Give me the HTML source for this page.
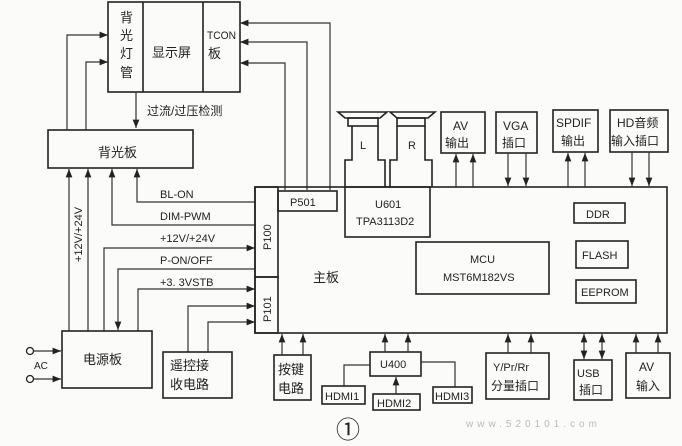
<!DOCTYPE html>
<html><head><meta charset="utf-8"><style>
html,body{margin:0;padding:0;background:#fbfbfa;}
svg{display:block;}
text{font-family:"Liberation Sans","Noto Sans CJK SC",sans-serif;fill:#222;}
.b{fill:none;stroke:#222;stroke-width:1.6;}
.l{fill:none;stroke:#333;stroke-width:1.2;}
</style></head><body>
<svg width="682" height="446" viewBox="0 0 682 446" xmlns="http://www.w3.org/2000/svg">
<defs>
<marker id="a" viewBox="0 0 10 10" refX="10" refY="5" markerWidth="7" markerHeight="7" orient="auto-start-reverse"><path d="M0,1 L10,5 L0,9 z" fill="#222"/></marker>
</defs>
<rect class="b" x="108" y="2" width="132" height="90"/>
<line class="b" x1="143" y1="2" x2="143" y2="92"/>
<line class="b" x1="203" y1="2" x2="203" y2="92"/>
<g font-size="13"><text x="120" y="22">背</text><text x="120" y="40">光</text><text x="120" y="58">灯</text><text x="120" y="77">管</text></g>
<text x="152" y="57" font-size="13">显示屏</text>
<text x="207" y="39" font-size="11" textLength="29" lengthAdjust="spacingAndGlyphs">TCON</text>
<text x="208" y="58" font-size="13">板</text>
<polyline class="l" points="330,190 330,23 240,23" marker-end="url(#a)"/>
<polyline class="l" points="307,190 307,42 240,42" marker-end="url(#a)"/>
<polyline class="l" points="285,190 285,63 240,63" marker-end="url(#a)"/>
<rect class="b" x="48" y="130" width="145" height="38"/>
<text x="98" y="157" font-size="13">背光板</text>
<polyline class="l" points="67,130 67,35 108,35" marker-end="url(#a)"/>
<polyline class="l" points="86,130 86,62 108,62" marker-end="url(#a)"/>
<line class="l" x1="136" y1="92" x2="136" y2="128" marker-end="url(#a)"/>
<text x="147" y="115" font-size="12">过流/过压检测</text>
<line class="l" x1="69" y1="331" x2="69" y2="169" marker-end="url(#a)"/>
<line class="l" x1="88" y1="331" x2="88" y2="169" marker-end="url(#a)"/>
<text transform="translate(82,262) rotate(-90)" font-size="11">+12V/+24V</text>
<polyline class="l" points="255,202 137,202 137,169" marker-end="url(#a)"/>
<text x="160" y="198" font-size="11">BL-ON</text>
<polyline class="l" points="255,225 112,225 112,169" marker-end="url(#a)"/>
<text x="160" y="220" font-size="11">DIM-PWM</text>
<polyline class="l" points="104,331 104,248 255,248" marker-end="url(#a)"/>
<text x="160" y="242" font-size="11">+12V/+24V</text>
<polyline class="l" points="255,269 118,269 118,330" marker-end="url(#a)"/>
<text x="160" y="264" font-size="11">P-ON/OFF</text>
<polyline class="l" points="138,331 138,289 255,289" marker-end="url(#a)"/>
<text x="160" y="286" font-size="11">+3. 3VSTB</text>
<polyline class="l" points="188,352 188,306 255,306" marker-end="url(#a)"/>
<polyline class="l" points="208,352 208,322 255,322" marker-end="url(#a)"/>
<rect class="b" x="255" y="187" width="412" height="146"/>
<rect class="b" x="255" y="187" width="23" height="90"/>
<rect class="b" x="255" y="277" width="23" height="56"/>
<text transform="translate(271,250) rotate(-90)" font-size="11">P100</text>
<text transform="translate(271,322) rotate(-90)" font-size="11">P101</text>
<rect class="b" x="278" y="191" width="59" height="20"/>
<text x="290" y="206" font-size="11">P501</text>
<text x="313" y="282" font-size="13">主板</text>
<rect class="b" x="345" y="187" width="85" height="50"/>
<text x="375" y="208" font-size="11">U601</text>
<text x="356" y="225" font-size="11">TPA3113D2</text>
<rect class="b" x="416" y="242" width="133" height="52"/>
<text x="470" y="263" font-size="11">MCU</text>
<text x="443" y="281" font-size="11">MST6M182VS</text>
<rect class="b" x="574" y="203" width="51" height="20"/><text x="586" y="218" font-size="11">DDR</text>
<rect class="b" x="576" y="241" width="52" height="27"/><text x="582" y="259" font-size="11">FLASH</text>
<rect class="b" x="576" y="280" width="60" height="23"/><text x="581" y="296" font-size="11">EEPROM</text>
<g class="b">
<polygon points="338,112 387,112 380,118 345,118"/><rect x="348" y="118" width="30" height="8"/>
<polyline points="345,187 345,160 352,160 352,126"/><polyline points="378,126 378,160 385,160 385,187"/>
<polygon points="390,112 435,112 428,118 397,118"/><rect x="397" y="118" width="28" height="8"/>
<polyline points="390,187 390,160 397,160 397,126"/><polyline points="425,126 425,160 432,160 432,187"/>
</g>
<text x="360" y="149" font-size="11">L</text>
<text x="408" y="149" font-size="11">R</text>
<rect class="b" x="441" y="112" width="44" height="41"/><text x="453" y="130" font-size="12">AV</text><text x="445" y="147" font-size="12">输出</text>
<rect class="b" x="496" y="112" width="41" height="41"/><text x="503" y="130" font-size="12">VGA</text><text x="502" y="147" font-size="12">插口</text>
<rect class="b" x="553" y="110" width="45" height="42"/><text x="556" y="127" font-size="12">SPDIF</text><text x="561" y="145" font-size="12">输出</text>
<rect class="b" x="610" y="110" width="58" height="42"/><text x="617" y="127" font-size="12">HD音频</text><text x="611" y="145" font-size="12">输入插口</text>
<line class="l" x1="456" y1="187" x2="456" y2="154" marker-end="url(#a)"/>
<line class="l" x1="473" y1="187" x2="473" y2="154" marker-end="url(#a)"/>
<line class="l" x1="508" y1="153" x2="508" y2="186" marker-end="url(#a)"/>
<line class="l" x1="526" y1="153" x2="526" y2="186" marker-end="url(#a)"/>
<line class="l" x1="568" y1="187" x2="568" y2="153" marker-end="url(#a)"/>
<line class="l" x1="585" y1="187" x2="585" y2="153" marker-end="url(#a)"/>
<line class="l" x1="632" y1="152" x2="632" y2="186" marker-end="url(#a)"/>
<line class="l" x1="649" y1="152" x2="649" y2="186" marker-end="url(#a)"/>
<rect class="b" x="62" y="331" width="90" height="57"/>
<text x="83" y="364" font-size="13">电源板</text>
<circle cx="30" cy="351" r="3.5" fill="none" stroke="#222" stroke-width="1.3"/>
<circle cx="30" cy="379" r="3.5" fill="none" stroke="#222" stroke-width="1.3"/>
<line class="l" x1="34" y1="351" x2="61" y2="351" marker-end="url(#a)"/>
<line class="l" x1="34" y1="379" x2="61" y2="379" marker-end="url(#a)"/>
<text x="34" y="369" font-size="10">AC</text>
<rect class="b" x="163" y="352" width="69" height="46"/>
<text x="170" y="370" font-size="13">遥控接</text><text x="170" y="389" font-size="13">收电路</text>
<rect class="b" x="274" y="355" width="37" height="45"/>
<text x="278" y="374" font-size="13">按键</text><text x="278" y="393" font-size="13">电路</text>
<line class="l" x1="282" y1="355" x2="282" y2="334" marker-end="url(#a)"/>
<line class="l" x1="303" y1="355" x2="303" y2="334" marker-end="url(#a)"/>
<rect class="b" x="370" y="352" width="51" height="24"/>
<text x="380" y="368" font-size="11">U400</text>
<line class="l" x1="385" y1="352" x2="385" y2="334" marker-end="url(#a)"/>
<line class="l" x1="408" y1="352" x2="408" y2="334" marker-end="url(#a)"/>
<polyline class="l" points="370,365 344,365 344,386"/>
<polyline class="l" points="421,362 455,362 455,387"/>
<line class="l" x1="396" y1="394" x2="396" y2="377" marker-end="url(#a)"/>
<rect class="b" x="322" y="386" width="43" height="18"/><text x="325" y="400" font-size="11">HDMI1</text>
<rect class="b" x="373" y="394" width="47" height="16"/><text x="377" y="407" font-size="11">HDMI2</text>
<rect class="b" x="433" y="387" width="39" height="16"/><text x="435" y="400" font-size="11">HDMI3</text>
<rect class="b" x="486" y="353" width="63" height="46"/>
<text x="493" y="371" font-size="11">Y/Pr/Rr</text><text x="491" y="390" font-size="12">分量插口</text>
<line class="l" x1="508" y1="353" x2="508" y2="334" marker-end="url(#a)"/>
<line class="l" x1="531" y1="353" x2="531" y2="334" marker-end="url(#a)"/>
<rect class="b" x="574" y="360" width="38" height="40"/>
<text x="577" y="377" font-size="11">USB</text><text x="579" y="394" font-size="12">插口</text>
<line class="l" x1="584" y1="359" x2="584" y2="334" marker-start="url(#a)" marker-end="url(#a)"/>
<line class="l" x1="602" y1="359" x2="602" y2="334" marker-start="url(#a)" marker-end="url(#a)"/>
<rect class="b" x="626" y="353" width="44" height="45"/>
<text x="639" y="371" font-size="12">AV</text><text x="636" y="390" font-size="12">输入</text>
<line class="l" x1="636" y1="353" x2="636" y2="334" marker-end="url(#a)"/>
<line class="l" x1="658" y1="353" x2="658" y2="334" marker-end="url(#a)"/>
<text x="336" y="438" font-family="Liberation Serif,serif" font-size="24">①</text>
<text x="466" y="427" font-size="10" fill="#bbb" style="fill:#bbb;letter-spacing:4px">www.520101.com</text>
</svg>
</body></html>
